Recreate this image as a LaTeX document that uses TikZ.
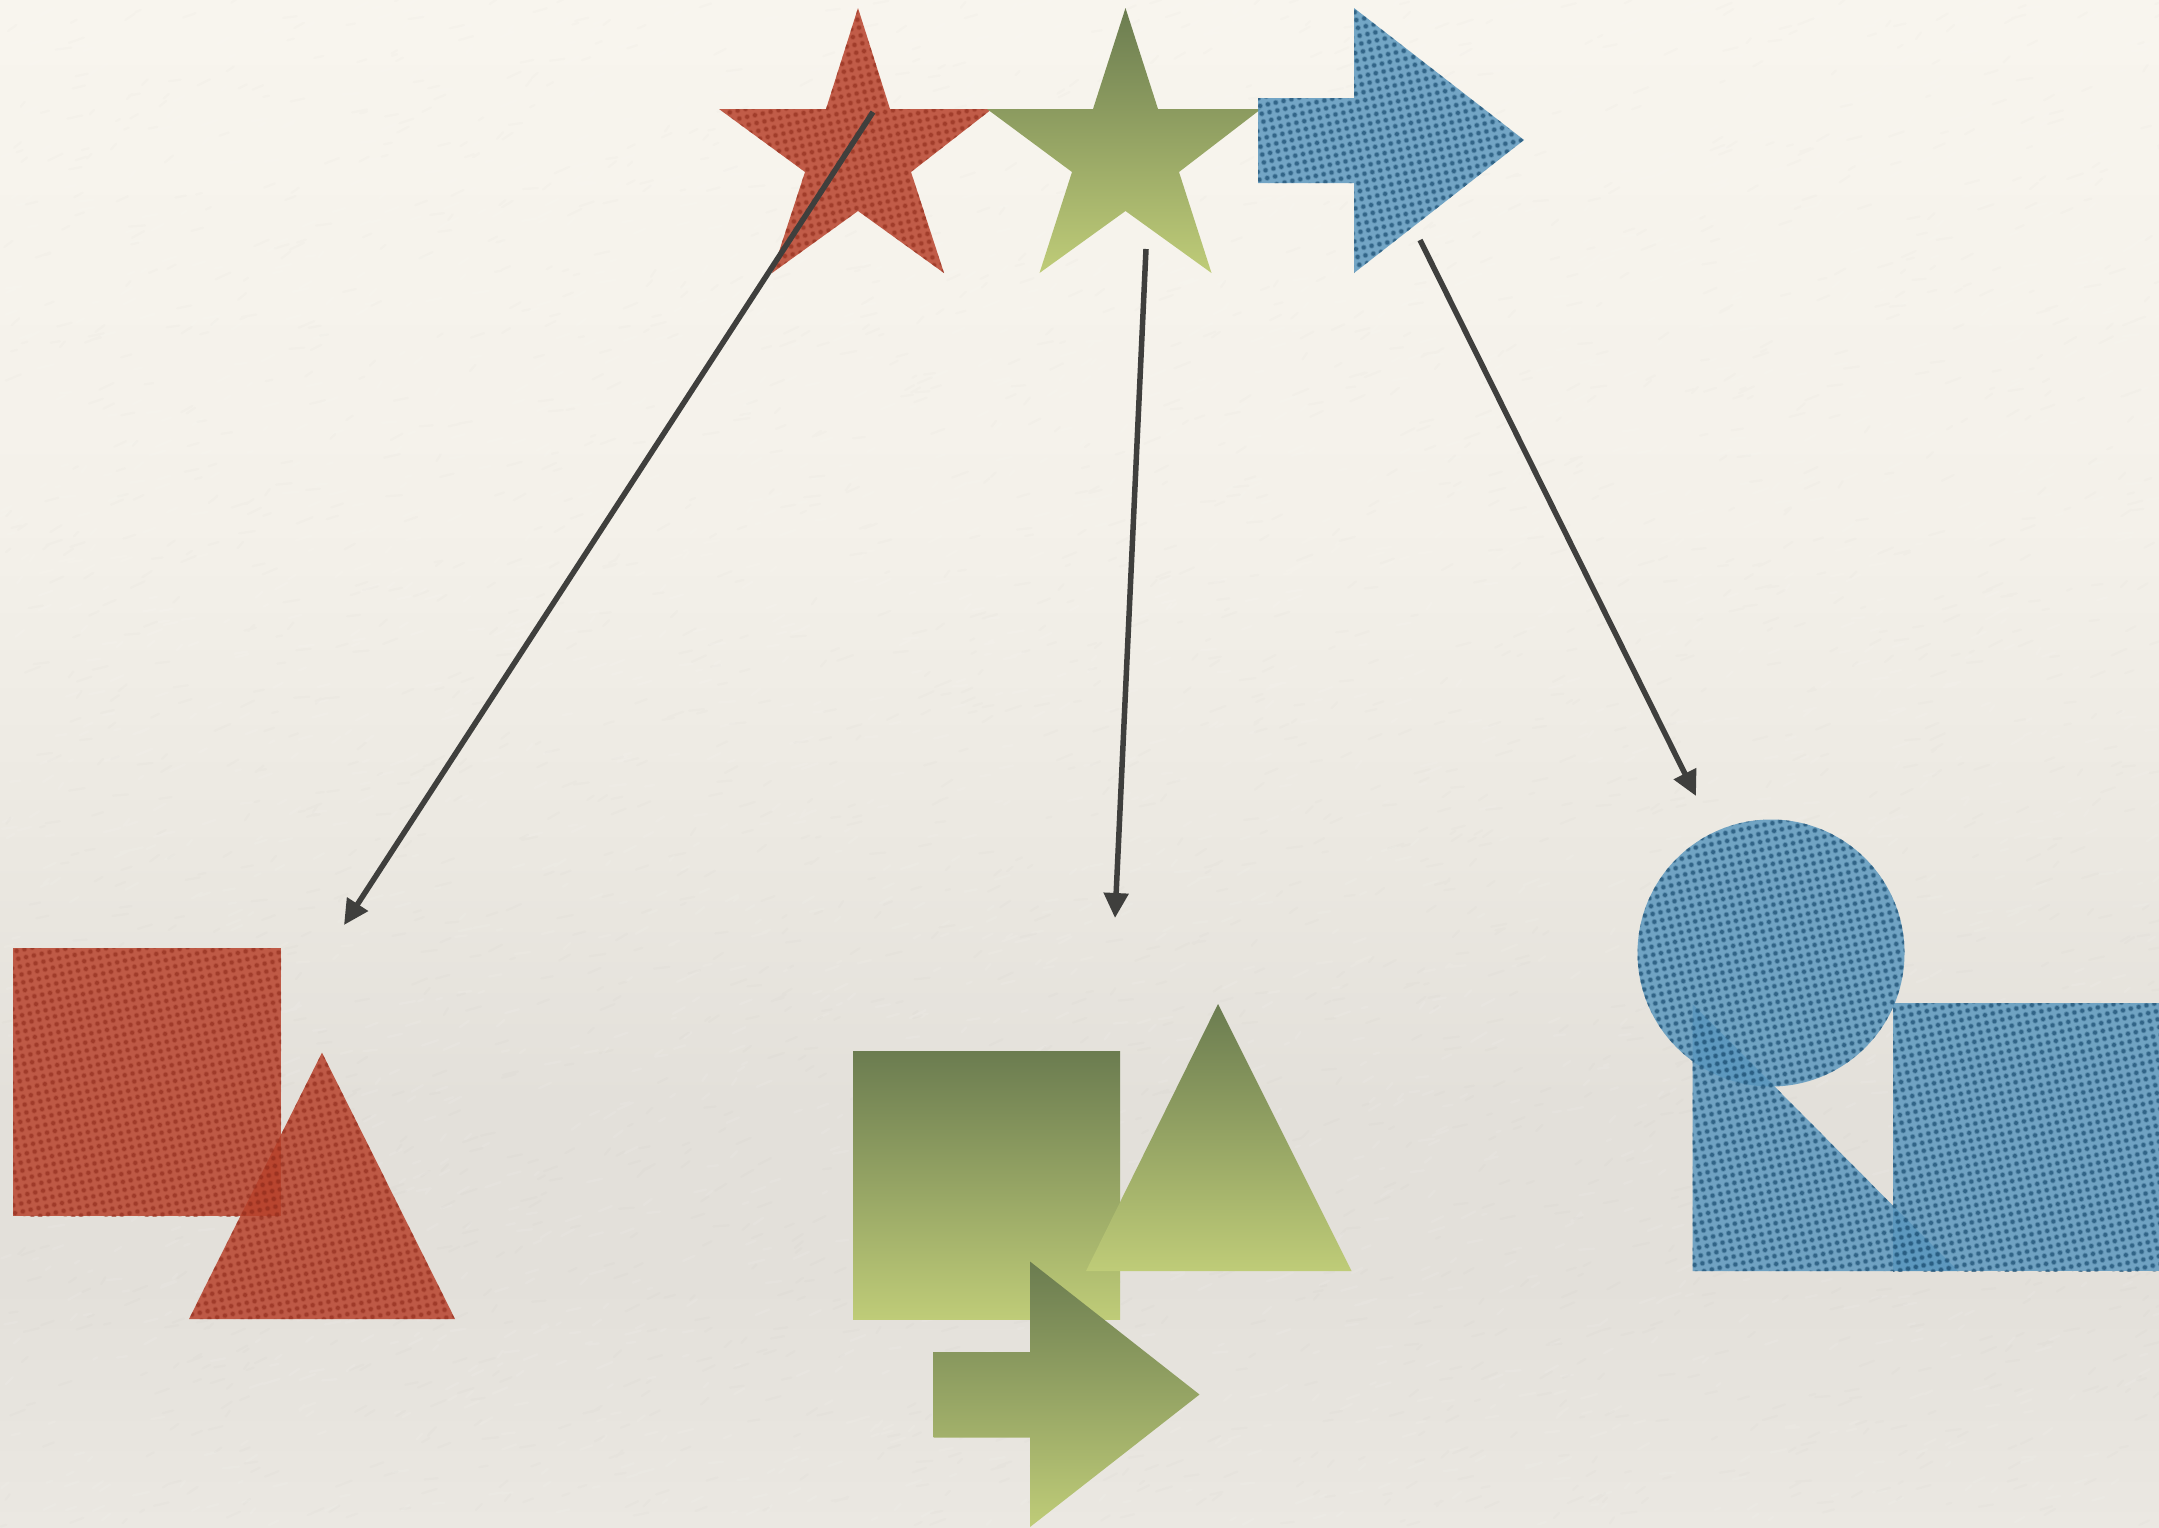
\documentclass[tikz,border=0pt]{standalone}
\usetikzlibrary{arrows.meta,patterns.meta}
\definecolor{linkgray}{HTML}{3F3F3D}
\definecolor{redbase}{HTML}{B8422C}
\definecolor{reddot}{HTML}{8E2A1A}
\definecolor{bluebase}{HTML}{5A97BE}
\definecolor{bluedot}{HTML}{174A6E}
\definecolor{greentop}{HTML}{6B7C50}
\definecolor{greenbot}{HTML}{BFCC78}
\definecolor{paperA}{HTML}{EBE8E2}
\definecolor{paperB}{HTML}{E3E0DA}
\definecolor{paperC}{HTML}{EBE8E1}
\definecolor{paperD}{HTML}{F4F1EA}
\definecolor{paperE}{HTML}{F8F5EE}
\pgfdeclareverticalshading{paperwash}{100bp}{
  color(0bp)=(paperA);
  color(25bp)=(paperA);
  color(33bp)=(paperB);
  color(39bp)=(paperB);
  color(47bp)=(paperC);
  color(58bp)=(paperD);
  color(75bp)=(paperE);
  color(100bp)=(paperE)}
\tikzset{
  redshape/.style={fill=redbase,fill opacity=.85},
  reddots/.style={pattern={Dots[distance=8pt,radius=2.9pt,angle=12]},pattern color=reddot,fill opacity=.22},
  reddotc/.style={pattern={Dots[distance=8pt,radius=2pt,angle=12]},pattern color=reddot,fill opacity=.5},
  blueshape/.style={fill=bluebase,fill opacity=.84},
  bluedots/.style={pattern={Dots[distance=8pt,radius=2.9pt,angle=12]},pattern color=bluedot,fill opacity=.28},
  bluedotc/.style={pattern={Dots[distance=8pt,radius=2pt,angle=12]},pattern color=bluedot,fill opacity=.58},
  greenshape/.style={top color=greentop,bottom color=greenbot},
  link/.style={draw=linkgray,line width=5.5pt,-{Triangle[length=25pt,width=24pt]}},
  fleck/.style={line width=2.4pt,line cap=round}
}
\newcommand{\redfill}[1]{\fill[redshape] #1; \fill[reddots] #1; \fill[reddotc] #1;}
\newcommand{\bluefill}[1]{\fill[blueshape] #1; \fill[bluedots] #1; \fill[bluedotc] #1;}
\begin{document}
\begin{tikzpicture}[x=1pt,y=-1pt]
\useasboundingbox (0,0) rectangle (2159,1527);
\shade[shading=paperwash] (0,0) rectangle (2159,1527);
\pgfmathsetseed{4242}
\draw[fleck,white,opacity=.09] foreach \i in {1,...,2600} {(rnd*2159,rnd*1527) -- ++(4+rnd*12,-1-rnd*6)};
\draw[fleck,black,opacity=.012] foreach \i in {1,...,2600} {(rnd*2159,rnd*1527) -- ++(4+rnd*12,-1-rnd*6)};

% connector ends
\coordinate (redfrom) at (873,112);
\coordinate (redto) at (344,925);
\coordinate (greenfrom) at (1146,249);
\coordinate (greento) at (1115,918);
\coordinate (bluefrom) at (1420,240);
\coordinate (blueto) at (1696,796);

% red source star
\def\redstar{(858,8) -- (890,109) -- (992,109) -- (911,172) -- (944,273) -- (858,211) -- (772,273) -- (805,172) -- (719,109) -- (826,109) -- cycle}
\redfill{\redstar}
% green source star
\shade[greenshape] (1125.5,8) -- (1158,109) -- (1261,109) -- (1179,172) -- (1211.5,273) -- (1125.5,211) -- (1039.5,273) -- (1072,172) -- (987,109) -- (1093,109) -- cycle;
% blue source arrow
\def\bluearrow{(1258,98) -- (1354,98) -- (1354,8) -- (1524,140) -- (1354,273) -- (1354,183) -- (1258,183) -- cycle}
\bluefill{\bluearrow}

% red group
\def\redsq{(13,948) rectangle (281,1216)}
\redfill{\redsq}
\def\redtri{(322,1052.5) -- (455,1319) -- (189,1319) -- cycle}
\redfill{\redtri}

% green group
\shade[greenshape] (853,1051) rectangle (1120,1319);
\shade[greenshape] (1218,1004) -- (1351.5,1271) -- (1086,1271) -- cycle;
\shade[greenshape] (1030,1261.5) -- (1199.5,1394.5) -- (1030,1527) -- (1030,1437.5) -- (933.5,1437.5) -- (933.5,1352) -- (1030,1352) -- cycle;

% blue group
\def\bluecirc{(1771,953) circle[radius=133.5]}
\bluefill{\bluecirc}
\def\bluetri{(1692.5,1004) -- (1958,1271) -- (1692.5,1271) -- cycle}
\bluefill{\bluetri}
\def\bluerect{(1893,1003) rectangle (2161,1271)}
\bluefill{\bluerect}

% connectors
\draw[link] (redfrom) -- (redto);
\draw[link] (greenfrom) -- (greento);
\draw[link] (bluefrom) -- (blueto);
\end{tikzpicture}
\end{document}
